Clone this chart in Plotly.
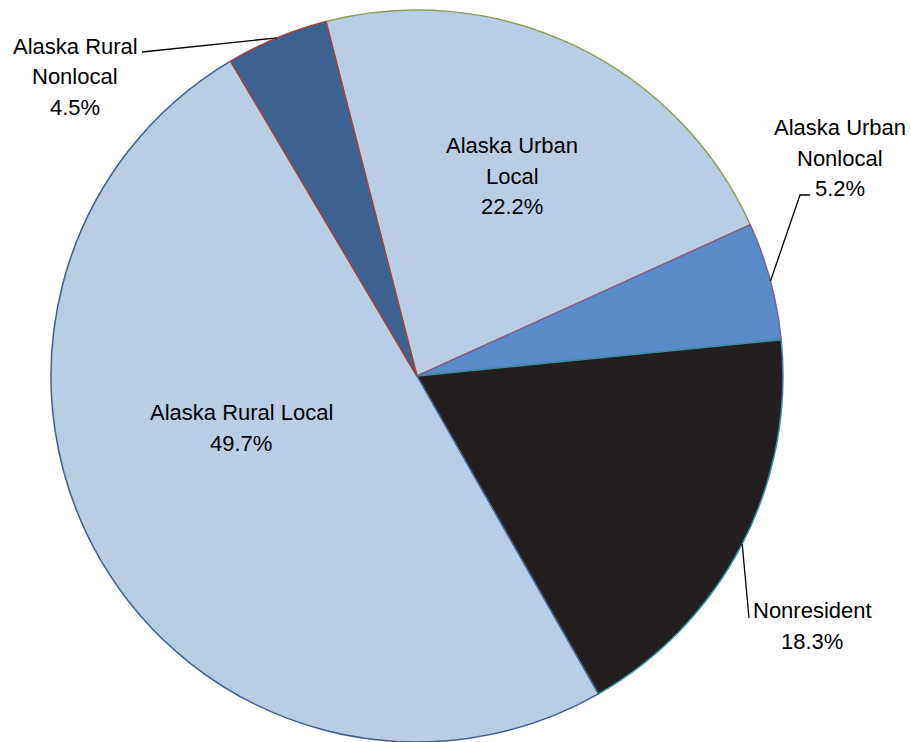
import math
import plotly.graph_objects as go

categories = ["Alaska Urban Local", "Alaska Urban Nonlocal", "Nonresident",
              "Alaska Rural Local", "Alaska Rural Nonlocal"]
label_lines = [["Alaska Urban", "Local"], ["Alaska Urban", "Nonlocal"], ["Nonresident"],
               ["Alaska Rural Local"], ["Alaska Rural", "Nonlocal"]]
values = [22.2, 5.2, 18.3, 49.7, 4.5]

fill_colors = ["#B9CDE5", "#5A8BC9", "#231F20", "#B9CDE5", "#3C6292"]
edge_colors = ["#8B9B5A", "#7D5F8F", "#3D8EA0", "#3E5E91", "#A5423E"]

W, H = 911, 742
CX, CY, R = 417, 376, 366
ROT = -14.4
FONT = "Liberation Sans Narrow, Arial Narrow, Liberation Sans, Arial, sans-serif"
FS = 22
LINE_H = 30.7

# label block centres (pixels) and leader line starting points
label_pos = [(512, 176), (840, 158), (812, 626), (241, 428), (75, 77)]
leader_start = [None, [(810, 195), (800, 195)], [(749, 618)], None, [(142, 52)]]

fig = go.Figure(go.Pie(
    labels=categories, values=values, sort=False, direction="clockwise",
    rotation=ROT, textinfo="none", hoverinfo="label+percent",
    marker=dict(colors=fill_colors, line=dict(color=edge_colors, width=1.5)),
    domain=dict(x=[(CX - R) / W, (CX + R) / W], y=[1 - (CY + R) / H, 1 - (CY - R) / H]),
    showlegend=False,
))

def px2p(x, y):
    return x / W, 1 - y / H

total = sum(values)
ang = ROT
annotations, shapes = [], []
for i, v in enumerate(values):
    span = v / total * 360
    mid = math.radians(ang + span / 2)
    ang += span
    lines = label_lines[i] + [f"{v:.1f}%"]
    n = len(lines)
    lx, ly = label_pos[i]
    for k, line in enumerate(lines):
        ax, ay = px2p(lx, ly + (k - (n - 1) / 2) * LINE_H)
        annotations.append(dict(text=line, x=ax, y=ay, xref="paper", yref="paper",
                                xanchor="center", yanchor="middle",
                                showarrow=False, align="center",
                                font=dict(family=FONT, size=FS, color="#000000")))
    if leader_start[i]:
        ex, ey = CX + R * math.sin(mid), CY - R * math.cos(mid)
        pts = leader_start[i] + [(ex, ey)]
        path = "M " + " L ".join(f"{px2p(x, y)[0]:.5f},{px2p(x, y)[1]:.5f}" for x, y in pts)
        shapes.append(dict(type="path", path=path, xref="paper", yref="paper",
                           line=dict(color="#000000", width=1.3)))

fig.update_layout(width=W, height=H, margin=dict(l=0, r=0, t=0, b=0),
                  paper_bgcolor="white", plot_bgcolor="white",
                  annotations=annotations, shapes=shapes)
fig.write_html("out.html", config={"displayModeBar": False},
               post_script="document.body.style.margin='0';document.body.style.overflow='hidden';")
